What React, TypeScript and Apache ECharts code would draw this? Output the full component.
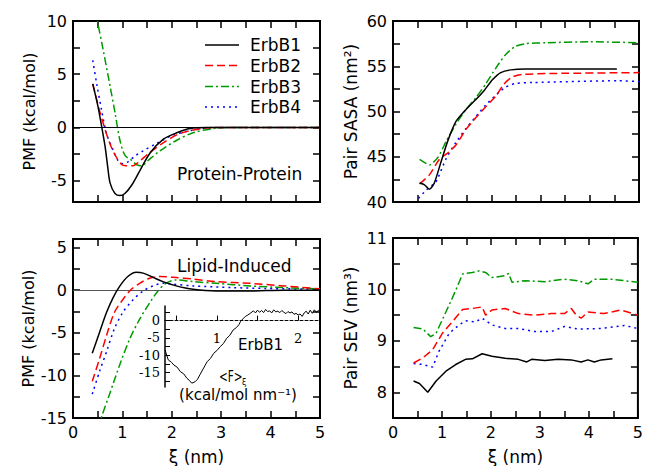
import React, { useEffect, useRef } from 'react';
import * as echarts from 'echarts';

const FONT = 'DejaVu Sans';
const SERIF = 'DejaVu Serif';

const seriesNames = ['ErbB1', 'ErbB2', 'ErbB3', 'ErbB4'];
const seriesColors = ['#000000', '#ff0000', '#009a00', '#0000ff'];
const seriesDash: any[] = ['solid', [8, 4], [8, 3, 2, 3], [2, 4]];

// Axis ticks and labels
const xTickLabels = [0, 1, 2, 3, 4, 5];
const ppTicks = [-5, -2.5, 0, 2.5, 5, 7.5, 10];
const ppLabels = [-5, 0, 5, 10];
const sasaTicks = [40, 42.5, 45, 47.5, 50, 52.5, 55, 57.5, 60];
const sasaLabels = [40, 45, 50, 55, 60];
const lipTicks = [-15, -12.5, -10, -7.5, -5, -2.5, 0, 2.5, 5];
const lipLabels = [-15, -10, -5, 0, 5];
const sevTicks = [7.5, 8, 8.5, 9, 9.5, 10, 10.5, 11];
const sevLabels = [8, 9, 10, 11];
const insetXTicks = [0.5, 1, 1.5, 2];
const insetXLabels = [1, 2];
const insetYTicks = [-17.5, -15, -12.5, -10, -7.5, -5, -2.5, 0, 2.5];
const insetYLabels = [-15, -10, -5, 0];

// Protein-Protein PMF (kcal/mol) vs xi (nm)
const ppErbB1 = [[0.4, 4.1], [0.5, 2.1], [0.58, 0.1], [0.65, -1.8], [0.7, -3.6], [0.75, -5.2], [0.85, -6.2], [0.95, -6.4], [1.05, -6.2], [1.19, -5.4], [1.36, -4.0], [1.56, -2.4], [1.83, -1.1], [2.1, -0.5], [2.37, -0.1], [2.7, 0], [3, 0], [4, 0], [5, 0]];
const ppErbB2 = [[0.4, 4.1], [0.53, 1.7], [0.63, 0.1], [0.73, -1.3], [0.83, -2.4], [0.97, -3.4], [1.07, -3.6], [1.21, -3.6], [1.34, -3.2], [1.54, -2.4], [1.81, -1.5], [2.1, -0.7], [2.37, -0.3], [2.7, -0.05], [3, 0], [4, 0], [5, 0]];
const ppErbB3 = [[0.4, 12.5], [0.49, 10.1], [0.61, 7.3], [0.75, 3.9], [0.85, 1.4], [0.95, -1.2], [1.05, -2.6], [1.19, -3.1], [1.29, -3.5], [1.39, -3.6], [1.52, -3.1], [1.76, -2.2], [2.1, -1.2], [2.43, -0.5], [2.84, -0.1], [3.2, 0], [4, 0], [5, 0]];
const ppErbB4 = [[0.4, 6.3], [0.48, 4.1], [0.58, 1.6], [0.68, -0.6], [0.81, -2.1], [0.91, -3.1], [1.01, -3.4], [1.12, -3.2], [1.25, -2.7], [1.42, -2.2], [1.69, -1.5], [2.03, -0.7], [2.37, -0.3], [2.7, -0.05], [3, 0], [4, 0], [5, 0]];

// Pair SASA (nm^2)
const sasaErbB1 = [[0.54, 42.1], [0.64, 41.9], [0.74, 41.4], [0.84, 42.1], [0.98, 44.5], [1.11, 46.7], [1.28, 48.9], [1.48, 50.2], [1.68, 51.3], [1.85, 52.3], [2.02, 53.5], [2.19, 54.3], [2.39, 54.6], [2.7, 54.7], [3.5, 54.7], [4.55, 54.7]];
const sasaErbB2 = [[0.54, 42.0], [0.74, 43.0], [0.94, 44.7], [1.11, 45.4], [1.28, 46.3], [1.48, 48.0], [1.68, 49.3], [1.88, 50.5], [2.09, 51.7], [2.25, 53.0], [2.42, 53.8], [2.63, 54.1], [3.24, 54.2], [5, 54.3]];
const sasaErbB3 = [[0.54, 44.7], [0.74, 44.1], [0.91, 44.9], [1.08, 46.7], [1.28, 48.6], [1.48, 50.2], [1.68, 51.5], [1.88, 53.0], [2.09, 54.8], [2.29, 56.3], [2.49, 57.2], [2.7, 57.5], [3.1, 57.6], [4, 57.7], [5, 57.6]];
const sasaErbB4 = [[0.52, 40.4], [0.67, 41.3], [0.87, 42.2], [1.08, 44.8], [1.28, 46.6], [1.48, 48.1], [1.68, 49.4], [1.88, 50.7], [2.09, 51.8], [2.29, 52.7], [2.49, 53.1], [2.83, 53.2], [4.59, 53.4], [5, 53.3]];

// Lipid-Induced PMF (kcal/mol)
const lipErbB1 = [[0.39, -7.4], [0.54, -4.9], [0.68, -2.6], [0.81, -0.9], [0.95, 0.5], [1.11, 1.6], [1.28, 2.1], [1.42, 2.0], [1.62, 1.5], [1.82, 1.0], [2.09, 0.5], [2.43, 0.1], [2.9, -0.1], [3.58, -0.1], [4.26, 0], [5, 0]];
const lipErbB2 = [[0.39, -10.7], [0.54, -8.0], [0.68, -5.3], [0.84, -2.6], [1.01, -1.1], [1.18, 0.1], [1.35, 0.8], [1.55, 1.4], [1.76, 1.6], [2.03, 1.5], [2.43, 1.3], [2.9, 1.0], [3.58, 0.8], [4.26, 0.5], [5, 0.15]];
const lipErbB3 = [[0.4, -18], [0.57, -15], [0.74, -12.2], [0.95, -8.7], [1.15, -5.7], [1.35, -3.4], [1.55, -1.5], [1.72, -0.1], [1.88, 0.8], [2.09, 1.2], [2.43, 1.0], [2.9, 0.8], [3.58, 0.5], [4.26, 0.3], [5, 0.15]];
const lipErbB4 = [[0.39, -12.2], [0.54, -9.5], [0.68, -7.2], [0.84, -4.5], [1.01, -2.6], [1.22, -1.1], [1.42, -0.1], [1.62, 0.5], [1.82, 0.8], [2.03, 0.7], [2.43, 0.5], [3.24, 0.3], [3.9, 0.2], [5, 0.1]];

// Pair SEV (nm^3)
const sevErbB1 = [[0.42, 8.22], [0.54, 8.17], [0.71, 8.0], [0.88, 8.22], [1.08, 8.41], [1.28, 8.54], [1.48, 8.64], [1.62, 8.65], [1.82, 8.75], [2.02, 8.7], [2.29, 8.66], [2.56, 8.64], [2.73, 8.59], [2.83, 8.64], [3.1, 8.62], [3.37, 8.64], [3.64, 8.63], [3.84, 8.59], [3.98, 8.63], [4.11, 8.59], [4.25, 8.63], [4.48, 8.65]];
const sevErbB2 = [[0.42, 8.57], [0.61, 8.67], [0.81, 8.83], [1.01, 9.15], [1.21, 9.37], [1.42, 9.61], [1.62, 9.63], [1.82, 9.66], [1.89, 9.5], [2.02, 9.6], [2.29, 9.63], [2.56, 9.53], [2.9, 9.5], [3.23, 9.53], [3.5, 9.53], [3.64, 9.63], [3.74, 9.5], [3.84, 9.44], [3.98, 9.56], [4.31, 9.53], [4.65, 9.6], [5.0, 9.5]];
const sevErbB3 = [[0.42, 9.26], [0.61, 9.23], [0.77, 9.08], [0.88, 9.15], [1.08, 9.56], [1.28, 9.98], [1.42, 10.3], [1.62, 10.33], [1.75, 10.36], [1.89, 10.33], [2.02, 10.23], [2.29, 10.27], [2.36, 10.31], [2.43, 10.14], [2.7, 10.17], [3.1, 10.15], [3.5, 10.2], [3.77, 10.17], [3.98, 10.11], [4.11, 10.2], [4.45, 10.2], [4.72, 10.17], [5.0, 10.14]];
const sevErbB4 = [[0.42, 8.56], [0.61, 8.54], [0.81, 8.49], [0.94, 8.8], [1.15, 9.15], [1.35, 9.31], [1.48, 9.39], [1.68, 9.37], [1.82, 9.44], [2.02, 9.31], [2.29, 9.24], [2.56, 9.24], [2.9, 9.18], [3.23, 9.18], [3.5, 9.28], [3.77, 9.23], [4.25, 9.24], [4.72, 9.3], [5.0, 9.24]];

// Inset: ErbB1 mean force <F> (kcal/mol nm^-1)
const forceX = [0.36, 0.40, 0.44, 0.47, 0.51, 0.55, 0.59, 0.63, 0.66, 0.69, 0.73, 0.76, 0.79, 0.83, 0.88, 0.92, 0.96, 1.0, 1.04, 1.08, 1.12, 1.16, 1.2, 1.24, 1.27, 1.29, 1.32, 1.35, 1.38, 1.41, 1.45, 1.475, 1.5, 1.525, 1.55, 1.575, 1.6, 1.625, 1.65, 1.675, 1.7, 1.725, 1.75, 1.775, 1.8, 1.825, 1.85, 1.875, 1.9, 1.925, 1.95, 1.975, 2.0, 2.025, 2.05, 2.075, 2.1, 2.125, 2.15, 2.175, 2.2, 2.225, 2.25, 2.27];
const forceY = [-8.4, -11.3, -12.0, -12.8, -13.4, -14.7, -15.3, -16.6, -17.2, -18.0, -17.6, -16.9, -15.6, -13.9, -11.8, -10.9, -9.4, -8.6, -7.5, -6.6, -5.1, -4.2, -2.7, -2.0, -1.2, -0.3, 0.5, 1.2, 1.6, 2.1, 2.8, 2.2, 3.0, 2.4, 2.9, 2.3, 3.2, 2.6, 2.8, 2.2, 3.1, 2.5, 2.7, 2.3, 2.9, 2.4, 2.0, 2.6, 2.2, 2.5, 1.8, 2.1, 1.6, 1.9, 1.2, 2.2, 2.7, 1.9, 3.0, 2.1, 3.1, 2.4, 2.9, 2.5];

const panels = [
  { data: [ppErbB1, ppErbB2, ppErbB3, ppErbB4], smooth: 0.3 },
  { data: [sasaErbB1, sasaErbB2, sasaErbB3, sasaErbB4], smooth: 0.2 },
  { data: [lipErbB1, lipErbB2, lipErbB3, lipErbB4], smooth: 0.3 },
  { data: [sevErbB1, sevErbB2, sevErbB3, sevErbB4], smooth: false },
];

const gridBoxes = [
  { left: 73, top: 21, width: 247, height: 181 },
  { left: 393, top: 21, width: 246, height: 181 },
  { left: 73, top: 239, width: 247, height: 182 },
  { left: 393, top: 238, width: 248, height: 183 },
];
const insetBox = { left: 165, top: 306, width: 155, height: 81 };
const insetXMin = 0.36, insetXMax = 2.27, insetYMin = -19.1, insetYMax = 4.2;

const labelStyle = { color: '#000', fontSize: 16, fontFamily: FONT };
const tickLine = { color: '#000', width: 1.5 };

function xAxes(gi: number, showLabels: boolean) {
  const base: any = {
    type: 'value', gridIndex: gi, min: 0, max: 5, interval: 0.5,
    splitLine: { show: false },
    axisLine: { show: false, onZero: false },
    axisTick: { show: true, inside: true, length: 7, lineStyle: tickLine },
  };
  return [
    {
      ...base, position: 'bottom',
      axisLabel: { show: showLabels, customValues: xTickLabels, margin: 6, ...labelStyle },
      name: showLabels ? 'ξ (nm)' : '', nameLocation: 'middle', nameGap: 30,
      nameTextStyle: { color: '#000', fontSize: 17, fontFamily: FONT },
    },
    { ...base, position: 'top', axisLabel: { show: false } },
  ];
}

function yAxes(gi: number, min: number, max: number, ticks: number[], labels: number[], name: string, gap: number, nameSize: number) {
  const base: any = {
    type: 'value', gridIndex: gi, min, max,
    splitLine: { show: false },
    axisLine: { show: false, onZero: false },
    axisTick: { show: true, inside: true, length: 7, customValues: ticks, lineStyle: tickLine },
  };
  return [
    {
      ...base, position: 'left',
      axisLabel: { customValues: labels, margin: 6, ...labelStyle },
      name, nameLocation: 'middle', nameGap: gap, nameRotate: 90,
      nameTextStyle: { color: '#000', fontSize: nameSize, fontFamily: FONT },
    },
    { ...base, position: 'right', axisLabel: { show: false } },
  ];
}

function buildOption() {
  const grid: any[] = gridBoxes.map((g) => ({ ...g, show: true, borderColor: '#000', borderWidth: 2, backgroundColor: 'transparent' }));
  grid.push({ ...insetBox, show: false });

  // place the inset x axis on y = 0
  const zeroOffset = -insetBox.height * (0 - insetYMin) / (insetYMax - insetYMin);

  const xAxis: any[] = [
    ...xAxes(0, false), ...xAxes(1, false), ...xAxes(2, true), ...xAxes(3, true),
    {
      type: 'value', gridIndex: 4, min: insetXMin, max: insetXMax, position: 'bottom', offset: zeroOffset,
      splitLine: { show: false },
      axisLine: { show: true, onZero: false, lineStyle: { color: '#000', width: 1, type: [3, 2] } },
      axisTick: { show: true, inside: true, length: 5, customValues: insetXTicks, lineStyle: { color: '#000', width: 1 } },
      axisLabel: { customValues: insetXLabels, margin: 11, color: '#000', fontSize: 13, fontFamily: SERIF },
    },
  ];
  const yAxis: any[] = [
    ...yAxes(0, -7, 10, ppTicks, ppLabels, 'PMF (kcal/mol)', 36, 16),
    ...yAxes(1, 40, 60, sasaTicks, sasaLabels, 'Pair SASA (nm²)', 34, 17),
    ...yAxes(2, -15, 6, lipTicks, lipLabels, 'PMF (kcal/mol)', 36, 16),
    ...yAxes(3, 7.5, 11, sevTicks, sevLabels, 'Pair SEV (nm³)', 34, 17),
    {
      type: 'value', gridIndex: 4, min: insetYMin, max: insetYMax,
      splitLine: { show: false },
      axisLine: { show: true, onZero: false, lineStyle: { color: '#000', width: 1.5 } },
      axisTick: { show: true, inside: true, length: 5, customValues: insetYTicks, lineStyle: { color: '#000', width: 1 } },
      axisLabel: { customValues: insetYLabels, margin: 5, color: '#000', fontSize: 13, fontFamily: SERIF },
    },
  ];

  const series: any[] = [];
  panels.forEach((p, gi) => {
    p.data.forEach((d, si) => {
      const s: any = {
        type: 'line', name: seriesNames[si], xAxisIndex: gi * 2, yAxisIndex: gi * 2,
        data: d, symbol: 'none', showSymbol: false, smooth: p.smooth, clip: true,
        lineStyle: { color: seriesColors[si], width: 1.5, type: seriesDash[si] },
        z: 3 + (3 - si),
      };
      if (si === 0 && (gi === 0 || gi === 2)) {
        s.markLine = {
          silent: true, symbol: 'none', label: { show: false },
          lineStyle: { color: gi === 0 ? '#000' : '#555', width: 1, type: 'solid' },
          data: [{ yAxis: 0 }],
        };
      }
      series.push(s);
    });
  });
  series.push({
    type: 'line', name: 'ErbB1 force', xAxisIndex: 8, yAxisIndex: 8,
    data: forceX.map((x, i) => [x, forceY[i]]), symbol: 'none', showSymbol: false,
    lineStyle: { color: '#000', width: 1 }, z: 8,
  });

  const legendYs = [45, 65.5, 86.5, 107];
  const graphic: any[] = [];
  seriesNames.forEach((n, i) => {
    graphic.push({
      type: 'line', shape: { x1: 205, y1: legendYs[i], x2: 239, y2: legendYs[i] },
      style: { stroke: seriesColors[i], lineWidth: 1.5, lineDash: seriesDash[i] === 'solid' ? null : seriesDash[i] },
    });
    graphic.push({
      type: 'text', x: 250, y: legendYs[i],
      style: { text: n, fontSize: 17, fontFamily: FONT, fill: '#000', verticalAlign: 'middle', align: 'left' },
    });
  });
  graphic.push({ type: 'text', x: 177, y: 174, style: { text: 'Protein-Protein', fontSize: 17, fontFamily: FONT, fill: '#000', verticalAlign: 'middle' } });
  graphic.push({ type: 'text', x: 177, y: 266, style: { text: 'Lipid-Induced', fontSize: 17, fontFamily: FONT, fill: '#000', verticalAlign: 'middle' } });
  graphic.push({ type: 'text', x: 238, y: 345, style: { text: 'ErbB1', fontSize: 15, fontFamily: FONT, fill: '#000', verticalAlign: 'middle' } });
  graphic.push({ type: 'text', x: 219, y: 377, scaleX: 0.7, style: { text: '<F>', fontSize: 15, fontFamily: FONT, fill: '#000', verticalAlign: 'middle' } });
  graphic.push({ type: 'text', x: 242, y: 382, style: { text: 'ξ', fontSize: 8, fontFamily: FONT, fill: '#000', verticalAlign: 'middle' } });
  graphic.push({ type: 'text', x: 238, y: 395, style: { text: '(kcal/mol nm⁻¹)', fontSize: 15, fontFamily: FONT, fill: '#000', verticalAlign: 'middle', align: 'center' } });

  return { animation: false, backgroundColor: '#fff', grid, xAxis, yAxis, series, graphic };
}

export default function App() {
  const ref = useRef<HTMLDivElement>(null);
  useEffect(() => {
    if (!ref.current) return;
    const chart = echarts.init(ref.current, null, { renderer: 'svg' });
    chart.setOption(buildOption() as any);
    return () => chart.dispose();
  }, []);
  return (
    <div
      ref={ref}
      style={{ position: 'fixed', left: 0, top: 0, width: 646, height: 466, background: '#fff' }}
    />
  );
}
